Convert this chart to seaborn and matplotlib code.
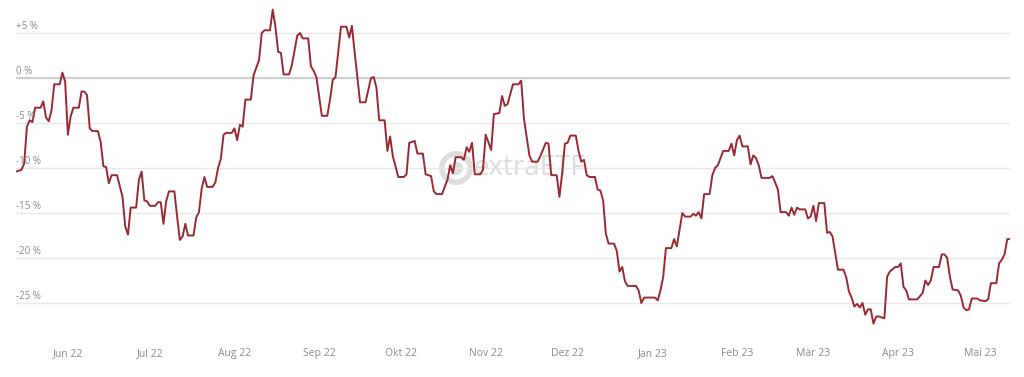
import pandas as pd
import matplotlib.pyplot as plt
import seaborn as sns

# performance in % , days counted from the first day of the chart
start = pd.Timestamp("2022-05-13")
day_offset = [0, 2, 3, 4, 5, 6, 7, 9, 10, 11, 12, 13, 14, 16, 17, 18, 19, 20, 21, 23,
              24, 25, 26, 27, 28, 30, 31, 32, 33, 34, 35, 37, 39, 40, 41, 42, 44, 45, 46, 47,
              48, 49, 51, 52, 53, 54, 55, 56, 58, 59, 60, 61, 62, 63, 65, 66, 67, 68, 69, 70,
              72, 73, 74, 75, 76, 77, 79, 80, 81, 82, 83, 84, 86, 87, 89, 90, 91, 93, 94, 95,
              96, 97, 98, 100, 101, 103, 104, 105, 107, 108, 109, 110, 112, 114, 115, 116, 117, 119, 121, 122,
              123, 124, 126, 128, 130, 131, 132, 133, 135, 136, 137, 138, 140, 142, 143, 144, 146, 147, 149, 150,
              152, 153, 154, 156, 158, 159, 160, 161, 163, 164, 165, 166, 167, 168, 170, 171, 172, 174, 175, 177,
              178, 179, 180, 182, 184, 185, 186, 188, 189, 191, 192, 194, 195, 196, 198, 199, 200, 201, 202, 203,
              205, 206, 207, 208, 209, 210, 212, 213, 214, 215, 216, 217, 219, 220, 221, 222, 223, 224, 227, 228,
              229, 230, 234, 235, 236, 237, 238, 240, 241, 242, 244, 245, 247, 248, 249, 250, 251, 252, 254, 255,
              256, 257, 259, 261, 262, 263, 264, 265, 266, 268, 269, 270, 271, 272, 273, 276, 277, 278, 279, 280,
              282, 283, 284, 285, 286, 287, 289, 290, 291, 292, 293, 294, 296, 297, 298, 299, 301, 303, 304, 305,
              306, 307, 308, 309, 310, 311, 312, 313, 314, 315, 316, 318, 319, 320, 322, 323, 324, 325, 326, 327,
              330, 332, 333, 334, 335, 336, 338, 339, 340, 341, 342, 343, 345, 346, 347, 348, 349, 350, 352, 353,
              355, 356, 357, 359, 360, 361, 362, 363, 364]
perf = [-10.4, -10.2, -9.5, -5.4, -4.7, -4.9, -3.3, -3.3, -2.6, -4.4, -4.8, -3.6, -0.7, -0.7, 0.6, -0.4, -6.3, -4.3, -3.3, -3.3,
        -1.5, -1.5, -1.9, -5.6, -5.9, -5.9, -7.1, -9.8, -9.9, -11.7, -10.8, -10.8, -13.2, -16.5, -17.4, -14.4, -14.4, -11.3, -10.4, -13.6,
        -13.7, -14.2, -14.2, -13.8, -13.8, -16.2, -13.7, -12.6, -12.6, -15.4, -18.0, -17.6, -16.2, -17.5, -17.5, -15.5, -14.9, -12.3, -11.0, -12.1,
        -12.1, -11.6, -10.0, -9.0, -6.3, -6.1, -6.1, -5.6, -6.9, -5.2, -5.4, -2.4, -2.4, 0.3, 2.0, 5.0, 5.3, 5.3, 7.6, 5.7,
        2.9, 2.8, 0.4, 0.4, 1.4, 4.7, 5.0, 4.4, 4.4, 1.3, 0.8, 0.1, -4.2, -4.2, -2.4, -0.2, 0.1, 5.7, 5.7, 4.5,
        5.8, 2.9, -2.7, -2.7, 0.0, 0.1, -1.1, -4.7, -4.7, -8.1, -6.5, -8.7, -11.0, -11.0, -10.7, -7.2, -7.0, -8.4, -8.4, -10.7,
        -10.9, -12.6, -12.9, -12.9, -11.3, -9.7, -10.6, -8.8, -8.8, -9.1, -7.7, -8.2, -7.2, -10.7, -10.7, -10.2, -6.3, -8.0, -4.0, -3.9,
        -2.0, -3.1, -2.9, -0.7, -0.7, -0.3, -4.5, -8.6, -9.3, -9.3, -8.7, -7.2, -7.3, -10.8, -10.8, -13.2, -10.6, -7.3, -7.2, -6.4,
        -6.4, -8.1, -9.3, -9.1, -10.8, -11.0, -11.0, -12.4, -12.5, -13.6, -17.3, -18.4, -18.4, -19.2, -21.5, -21.0, -22.6, -23.1, -23.1, -23.6,
        -25.0, -24.4, -24.4, -24.7, -23.6, -22.1, -18.9, -18.9, -17.9, -18.7, -15.0, -15.4, -15.4, -15.1, -15.3, -14.9, -15.6, -12.9, -12.9, -10.8,
        -10.0, -9.7, -8.1, -8.1, -7.3, -8.6, -6.9, -6.4, -7.6, -7.6, -9.6, -8.6, -8.9, -9.7, -11.1, -11.1, -10.9, -11.6, -12.4, -14.9,
        -14.9, -15.3, -14.4, -15.2, -14.4, -14.6, -14.6, -15.6, -15.4, -14.2, -15.9, -13.9, -13.9, -17.2, -17.1, -17.6, -21.3, -21.3, -22.1, -23.7,
        -24.4, -25.4, -25.1, -25.5, -25.0, -26.3, -25.7, -25.7, -27.3, -26.5, -26.5, -26.7, -22.1, -21.5, -21.0, -21.0, -20.6, -23.2, -23.6, -24.6,
        -24.6, -23.9, -22.5, -23.0, -22.5, -21.0, -21.0, -19.6, -19.6, -20.0, -22.1, -23.5, -23.6, -24.2, -25.5, -25.8, -25.7, -24.5, -24.5, -24.7,
        -24.8, -24.6, -22.8, -22.8, -20.6, -20.2, -19.6, -17.9, -17.9]

month_starts = ["2022-06-01", "2022-07-01", "2022-08-01", "2022-09-01", "2022-10-01", "2022-11-01",
                "2022-12-01", "2023-01-01", "2023-02-01", "2023-03-01", "2023-04-01", "2023-05-01"]
month_labels = ["Jun 22", "Jul 22", "Aug 22", "Sep 22", "Okt 22", "Nov 22",
                "Dez 22", "Jan 23", "Feb 23", "Mär 23", "Apr 23", "Mai 23"]
y_ticks = [5, 0, -5, -10, -15, -20, -25]
y_labels = ["+5 %", "0 %", "-5 %", "-10 %", "-15 %", "-20 %", "-25 %"]

df = pd.DataFrame({"datum": start + pd.to_timedelta(day_offset, unit="D"), "perf": perf})

sns.set_theme(style="white")
plt.rcParams['font.family'] = ['Open Sans', 'DejaVu Sans']
label_grey = '#8a8a8a'

fig = plt.figure(figsize=(10.24, 3.77), dpi=100)
ax = fig.add_axes([16/1024, 1 - 343.5/377, 994/1024, 338.4/377])

# watermark
ax.scatter([0.4427], [0.5186], s=420, facecolors='none', edgecolors='#dedede',
           linewidths=4, transform=ax.transAxes, zorder=0)
ax.scatter([0.4427], [0.5186], s=70, color='#dedede', transform=ax.transAxes, zorder=0)
ax.text(0.4598, 0.498, "extraETF", transform=ax.transAxes, fontsize=20,
        color='#dcdcdc', va='baseline', ha='left', zorder=0)

sns.lineplot(data=df, x="datum", y="perf", color='#9a2a32', linewidth=1.4, ax=ax, zorder=3)

ax.set_xlim(start, start + pd.Timedelta(days=364))
ax.set_ylim(-29.5, 8.1)

ax.set_yticks(y_ticks)
ax.grid(axis='y', color='#e8e8e8', linewidth=1)
ax.axhline(0, color='#cccccc', linewidth=1.3, zorder=1)
ax.tick_params(axis='y', labelleft=False, length=0)
for v, lab in zip(y_ticks, y_labels):
    ax.annotate(lab, xy=(0, v), xycoords=ax.get_yaxis_transform(), xytext=(0, 1),
                textcoords='offset points', va='bottom', ha='left', fontsize=7, color=label_grey)

ax.set_xticks(pd.to_datetime(month_starts))
ax.set_xticklabels(month_labels)
ax.tick_params(axis='x', length=0, pad=3, labelsize=7.5, labelcolor=label_grey)

ax.set_xlabel('')
ax.set_ylabel('')
sns.despine(left=True, bottom=True)

fig.savefig('out.png', dpi=100)
